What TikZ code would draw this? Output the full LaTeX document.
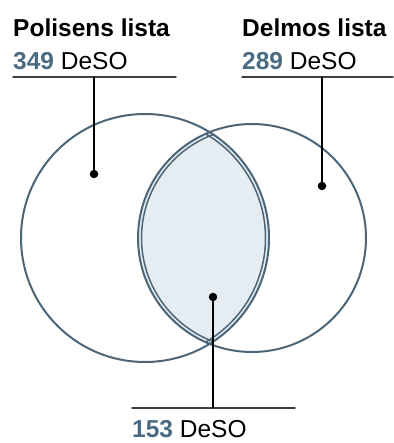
\documentclass[tikz,border=0pt]{standalone}
\usepackage{fontspec}
\setmainfont{Liberation Sans}
\usepackage{tikz}
\usepackage{xcolor}
\definecolor{ringc}{HTML}{4D6677}
\definecolor{numc}{HTML}{4A6B82}
\definecolor{lensc}{HTML}{E6EDF2}

\begin{document}
\begin{tikzpicture}[x=1pt,y=-1pt,line cap=round,
  lbl/.style={anchor=base west,inner sep=0pt,font=\fontsize{24.5}{26}\selectfont},
  dot/.style={circle,fill=black,inner sep=0pt,minimum size=8.5pt},
  lead/.style={black,line width=1.2pt},
  shelf/.style={black!75,line width=1.5pt}]
\useasboundingbox (0,0) rectangle (393,443);
% lens
\begin{scope}
\clip (145,238) circle (124pt);
\fill[lensc] (252,238) circle (114pt);
\end{scope}
\begin{scope}
\clip (145,238) circle (124pt);
\draw[ringc,line width=1.5pt] (252,238) circle (110.5pt);
\end{scope}
\begin{scope}
\clip (252,238) circle (114pt);
\draw[ringc,line width=1.5pt] (145,238) circle (120.5pt);
\end{scope}
\draw[ringc,line width=2pt] (145,238) circle (124pt);
\draw[ringc,line width=2pt] (252,238) circle (114pt);
% labels
\node[lbl] (ptitle) at (13,36.5) {\textbf{Polisens lista}};
\node[lbl] (pnum) at (13,70) {\textbf{\color{numc}349} DeSO};
\node[lbl] (dtitle) at (242,36.5) {\textbf{Delmos lista}};
\node[lbl] (dnum) at (242,70) {\textbf{\color{numc}289} DeSO};
\node[lbl] (bnum) at (132,437) {\textbf{\color{numc}153} DeSO};
% leaders
\coordinate (pl) at (13,77);
\coordinate (pr) at (176,77);
\coordinate (ptop) at (94,77);
\coordinate (dl) at (242,77);
\coordinate (dr) at (393,77);
\coordinate (dtop) at (322,77);
\coordinate (bl) at (132,408);
\coordinate (br) at (295,408);
\coordinate (bbot) at (213,408);
\node[dot] (pdot) at (94,174) {};
\node[dot] (ddot) at (322,186) {};
\node[dot] (bdot) at (213,297) {};
\draw[shelf] (pl) -- (pr);
\draw[shelf] (dl) -- (dr);
\draw[shelf] (bl) -- (br);
\draw[lead] (pdot) -- (ptop);
\draw[lead] (ddot) -- (dtop);
\draw[lead] (bdot) -- (bbot);
\end{tikzpicture}
\end{document}
